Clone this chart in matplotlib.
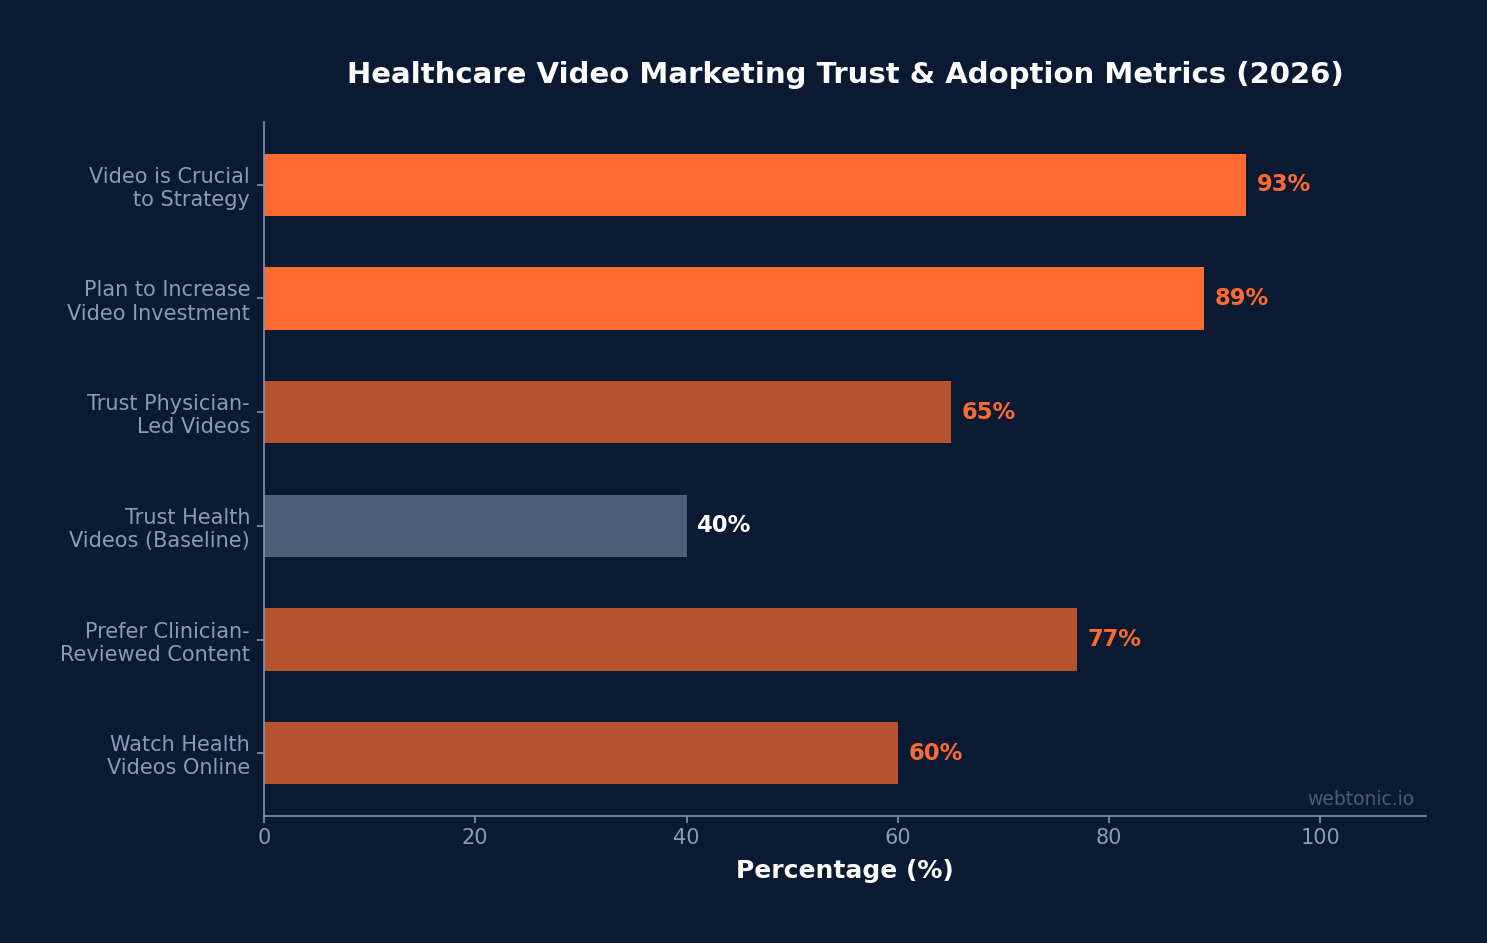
import matplotlib
matplotlib.use("Agg")
import matplotlib.pyplot as plt

# data
categories = ["Video is Crucial\nto Strategy",
              "Plan to Increase\nVideo Investment",
              "Trust Physician-\nLed Videos",
              "Trust Health\nVideos (Baseline)",
              "Prefer Clinician-\nReviewed Content",
              "Watch Health\nVideos Online"]
values = [93, 89, 65, 40, 77, 60]
bar_colors = ["#ff6b2f", "#ff6b2f", "#b5532f", "#4e5e78", "#b5532f", "#b5532f"]
label_colors = ["#ff6b2f", "#ff6b2f", "#ff6b2f", "#ffffff", "#ff6b2f", "#ff6b2f"]

BG = "#0b1a33"
AXC = "#8094b0"
TXT = "#8a9bb5"

fig = plt.figure(figsize=(14.87, 9.43), dpi=100, facecolor=BG)
ax = fig.add_axes([0.1775, 0.1347, 0.7815, 0.7359])
ax.set_facecolor(BG)

ypos = list(range(len(categories)))
ax.barh(ypos, values, height=0.55, color=bar_colors)
ax.set_yticks(ypos)
ax.set_yticklabels(categories)
ax.invert_yaxis()
ax.set_xlim(0, 110)

for y, v, c in zip(ypos, values, label_colors):
    ax.text(v + 1, y, f"{v}%", va="center", ha="left", color=c,
            fontsize=16.3, fontweight="bold")

for s in ["top", "right"]:
    ax.spines[s].set_visible(False)
for s in ["left", "bottom"]:
    ax.spines[s].set_color(AXC)
    ax.spines[s].set_linewidth(1.2)
ax.tick_params(colors=AXC, labelcolor=TXT, labelsize=15, length=5, width=1.2)
ax.tick_params(axis="y", pad=5)

ax.set_xlabel("Percentage (%)", color="white", fontsize=18, fontweight="bold", labelpad=8)
ax.set_title("Healthcare Video Marketing Trust & Adoption Metrics (2026)",
             color="white", fontsize=21, fontweight="bold", pad=28)

ax.text(0.99, 0.01, "webtonic.io", transform=ax.transAxes, ha="right", va="bottom",
        color="#4a5a75", fontsize=13.5)

fig.savefig("out.png", dpi=100, facecolor=BG)
